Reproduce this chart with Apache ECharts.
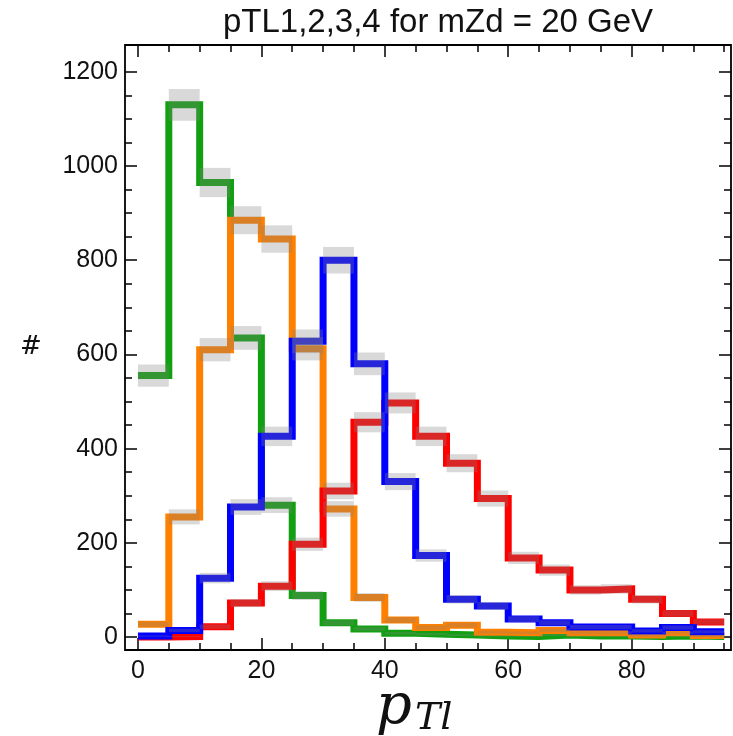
<!DOCTYPE html>
<html>
<head>
<meta charset="utf-8">
<script src="https://cdn.jsdelivr.net/npm/echarts@6/dist/echarts.min.js"></script>
<style>
  html, body { margin: 0; padding: 0; background: #ffffff; }
  #chart { width: 733px; height: 736px; }
</style>
</head>
<body>
<div id="chart"></div>
<script>
// Histogram bin edges (GeV), 5 GeV bins
const binEdges = [0, 5, 10, 15, 20, 25, 30, 35, 40, 45, 50, 55, 60, 65, 70, 75, 80, 85, 90, 95];

// Counts per bin for the four leptons
const pTL1 = [555, 1130, 965, 635, 280, 88, 30, 17, 8, 6, 4, 2, 1, 4, 2, 2, 1, 2, 1];        // green
const pTL2 = [27, 255, 610, 885, 845, 612, 272, 84, 36, 20, 25, 10, 9, 14, 9, 9, 4, 9, 3];     // orange
const pTL3 = [0, 1, 22, 72, 108, 197, 310, 456, 497, 426, 369, 294, 168, 142, 100, 102, 80, 50, 32]; // red
const pTL4 = [2, 14, 125, 276, 426, 628, 800, 580, 330, 173, 80, 66, 38, 30, 21, 21, 13, 20, 11]; // blue

// Tick positions
const xMajorTicks = [0, 20, 40, 60, 80];
const xMinorTicks = [5, 10, 15, 25, 30, 35, 45, 50, 55, 65, 70, 75, 85, 90, 95];
const yMajorTicks = [0, 200, 400, 600, 800, 1000, 1200];
const yMinorTicks = [50, 100, 150, 250, 300, 350, 450, 500, 550, 650, 700, 750,
                     850, 900, 950, 1050, 1100, 1150];

const titleText = 'pTL1,2,3,4 for mZd = 20 GeV';

const X_MIN = -2.1, X_MAX = 96.1;
const Y_MIN = -27.6, Y_MAX = 1257;

const chart = echarts.init(document.getElementById('chart'), null, { renderer: 'canvas' });

// Step outline: each bin value held across its bin, last value closed at the final edge
function stepPoints(values) {
  const pts = values.map((v, i) => [binEdges[i], v]);
  pts.push([binEdges[values.length], values[values.length - 1]]);
  return pts;
}

// Statistical band (N ± sqrt N) for every bin
function bandRects(values) {
  return values.map((v, i) => [binEdges[i], binEdges[i + 1], v - Math.sqrt(v), v + Math.sqrt(v)]);
}

const lineSeries = [
  { name: 'pTL1', data: pTL1, color: '#12a012' },
  { name: 'pTL2', data: pTL2, color: '#ff8000' },
  { name: 'pTL3', data: pTL3, color: '#ff0000' },
  { name: 'pTL4', data: pTL4, color: '#0000ff' }
];

const labelFont = { fontFamily: 'Liberation Sans, Arial, sans-serif', fontSize: 25, color: '#111111' };

function axisDef(kind, position, ticks, len, labels) {
  return {
    type: 'value', position: position,
    min: kind === 'x' ? X_MIN : Y_MIN,
    max: kind === 'x' ? X_MAX : Y_MAX,
    axisLine: { show: false, onZero: false },
    splitLine: { show: false },
    axisTick: { show: true, inside: true, length: len, customValues: ticks,
                lineStyle: { color: '#000', width: 1.5 } },
    axisLabel: labels
      ? Object.assign({ show: true, customValues: ticks, margin: kind === 'x' ? 9 : 7,
                        formatter: v => String(v) }, labelFont)
      : { show: false }
  };
}

const series = [];
lineSeries.forEach((s, k) => {
  series.push({
    name: s.name, type: 'line', step: 'end',
    xAxisIndex: 0, yAxisIndex: 0,
    data: stepPoints(s.data),
    symbol: 'none',
    lineStyle: { color: s.color, width: 7, join: 'miter', cap: 'butt' },
    z: 3 + k,
    silent: true
  });
});
lineSeries.forEach((s) => {
  series.push({
    name: s.name + ' band', type: 'custom',
    xAxisIndex: 0, yAxisIndex: 0,
    data: bandRects(s.data),
    z: 10, silent: true,
    renderItem: function (params, api) {
      const p0 = api.coord([api.value(0), api.value(3)]);
      const p1 = api.coord([api.value(1), api.value(2)]);
      return {
        type: 'rect',
        shape: { x: p0[0], y: p0[1], width: p1[0] - p0[0], height: p1[1] - p0[1] },
        style: { fill: 'rgba(128,128,128,0.3)' }
      };
    }
  });
});

chart.setOption({
  animation: false,
  backgroundColor: '#ffffff',
  title: {
    text: titleText, left: 433, textAlign: 'center', top: 1,
    textStyle: { fontFamily: 'Liberation Sans, Arial, sans-serif', fontSize: 33, fontWeight: 'normal', color: '#111111' }
  },
  grid: { left: 125, right: 2, top: 45, bottom: 86, show: true,
          borderColor: '#000', borderWidth: 1.8, backgroundColor: 'transparent' },
  xAxis: [
    axisDef('x', 'bottom', xMajorTicks, 12, true),
    axisDef('x', 'bottom', xMinorTicks, 7, false),
    axisDef('x', 'top', xMajorTicks, 12, false),
    axisDef('x', 'top', xMinorTicks, 7, false)
  ],
  yAxis: [
    axisDef('y', 'left', yMajorTicks, 12, true),
    axisDef('y', 'left', yMinorTicks, 7, false),
    axisDef('y', 'right', yMajorTicks, 12, false),
    axisDef('y', 'right', yMinorTicks, 7, false)
  ],
  graphic: [
    { type: 'text', left: 20, top: 334,
      style: { text: '#', fontFamily: 'DejaVu Serif, serif', fontSize: 26, fill: '#111111' } },
    { type: 'group', left: 376, top: 680, children: [
      { type: 'text', x: 0, y: 0,
        style: { text: 'p', fontFamily: 'DejaVu Serif, serif', fontStyle: 'italic', fontSize: 56, fill: '#111111' } },
      { type: 'text', x: 39, y: 20,
        style: { text: 'Tl', fontFamily: 'DejaVu Serif, serif', fontStyle: 'italic', fontSize: 38, fill: '#111111' } }
    ] }
  ],
  series: series
});
</script>
</body>
</html>
